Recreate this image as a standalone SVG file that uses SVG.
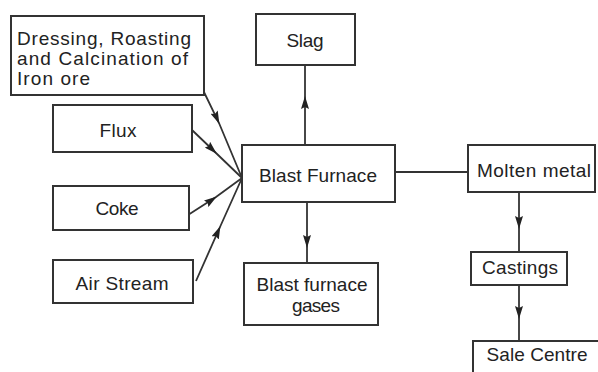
<svg xmlns="http://www.w3.org/2000/svg" width="598" height="372" viewBox="0 0 598 372">
<style>
.b{fill:#fff;stroke:#333;stroke-width:2}
text{font-family:"Liberation Sans",Arial,sans-serif;font-size:19px;fill:#222}
.c{text-anchor:middle}
.ln{fill:none;stroke:#333;stroke-width:1.8}
</style>
<defs>
<marker id="ah" viewBox="0 0 13 8" refX="12" refY="4" markerWidth="13" markerHeight="8" markerUnits="userSpaceOnUse" orient="auto">
<path d="M0,0 L13,4 L0,8 L2,4 Z" fill="#222"/>
</marker>
</defs>
<rect width="598" height="372" fill="#fff"/>
<g id="connectors">
<path class="ln" d="M203,90 L219,123 L242,178" marker-mid="url(#ah)"/>
<path class="ln" d="M192,130 L216,153 L242,178" marker-mid="url(#ah)"/>
<path class="ln" d="M188,215 L216,197 L242,178" marker-mid="url(#ah)"/>
<path class="ln" d="M196,281 L220,227 L242,178" marker-mid="url(#ah)"/>
<path class="ln" d="M305,145 L305,97 L305,65" marker-mid="url(#ah)"/>
<path class="ln" d="M307,202 L307,247 L307,263" marker-mid="url(#ah)"/>
<path class="ln" d="M395,172 L468,172"/>
<path class="ln" d="M519,192 L519,228 L519,252" marker-mid="url(#ah)"/>
<path class="ln" d="M519,285 L519,318 L519,341" marker-mid="url(#ah)"/>
</g>
<g id="dressing">
<rect class="b" x="11" y="16" width="193" height="79"/>
<text x="17" y="45" textLength="174" lengthAdjust="spacing">Dressing, Roasting</text>
<text x="17" y="65" textLength="171" lengthAdjust="spacing">and Calcination of</text>
<text x="17" y="85" textLength="73" lengthAdjust="spacing">Iron ore</text>
</g>
<g id="flux">
<rect class="b" x="53" y="105" width="139" height="47"/>
<text class="c" x="118" y="137" textLength="37" lengthAdjust="spacing">Flux</text>
</g>
<g id="coke">
<rect class="b" x="53" y="186" width="136" height="44"/>
<text class="c" x="117" y="215" textLength="43" lengthAdjust="spacing">Coke</text>
</g>
<g id="air">
<rect class="b" x="53" y="260" width="140" height="43"/>
<text class="c" x="122" y="290" textLength="93" lengthAdjust="spacing">Air Stream</text>
</g>
<g id="slag">
<rect class="b" x="256" y="14" width="99" height="51"/>
<text class="c" x="305" y="47" textLength="37" lengthAdjust="spacing">Slag</text>
</g>
<g id="blast">
<rect class="b" x="242" y="145" width="153" height="57"/>
<text class="c" x="318" y="182" textLength="118" lengthAdjust="spacing">Blast Furnace</text>
</g>
<g id="gases">
<rect class="b" x="244" y="263" width="134" height="62"/>
<text class="c" x="312" y="291" textLength="111" lengthAdjust="spacing">Blast furnace</text>
<text class="c" x="316" y="312" textLength="48" lengthAdjust="spacing">gases</text>
</g>
<g id="molten">
<rect class="b" x="468" y="145" width="127" height="47"/>
<text class="c" x="534" y="177" textLength="114" lengthAdjust="spacing">Molten metal</text>
</g>
<g id="castings">
<rect class="b" x="471" y="252" width="96" height="33"/>
<text class="c" x="520" y="274" textLength="76" lengthAdjust="spacing">Castings</text>
</g>
<g id="sale">
<rect class="b" x="473" y="341" width="130" height="40"/>
<text class="c" x="537" y="361" textLength="101" lengthAdjust="spacing">Sale Centre</text>
</g>
</svg>
